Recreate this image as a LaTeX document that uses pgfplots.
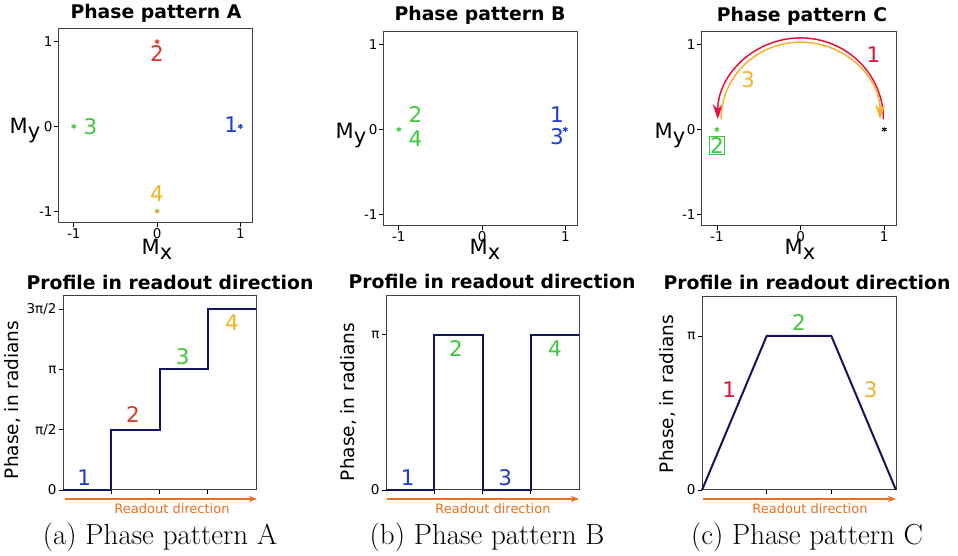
\documentclass[border=0pt]{standalone}
\usepackage{fontspec}
\usepackage{pgfplots}
\pgfplotsset{compat=1.18}
\usetikzlibrary{arrows.meta}
\newfontfamily\dv{DejaVu Sans}
\newcommand{\tl}{\dv\fontsize{13.5}{13.5}\selectfont}
\definecolor{cblue}{HTML}{1A3CD2}
\definecolor{cred}{HTML}{D43A28}
\definecolor{cgreen}{HTML}{3CC83C}
\definecolor{cyellow}{HTML}{F0B41E}
\definecolor{cgold}{HTML}{C8A028}
\definecolor{ccrim}{HTML}{E8103C}
\definecolor{cyel2}{HTML}{F8B030}
\definecolor{navy}{HTML}{14145A}
\definecolor{corange}{HTML}{E8701E}
\tikzset{num/.style={font=\dv\fontsize{21.5}{21.5}\selectfont, inner sep=0pt}}
\pgfplotsset{
  baseax/.style={scale only axis, anchor=south west,
    axis line style={black!75, line width=1pt},
    tick align=outside, major tick length=4pt,
    tick style={black, line width=0.8pt},
    xticklabel style={font=\tl}, yticklabel style={font=\tl},
    xtick pos=bottom, ytick pos=left, clip=false},
  topax/.style={baseax, xmin=-1.19, xmax=1.14, ymin=-1.14, ymax=1.15,
    xtick={-1,0,1}, ytick={-1,0,1},
    xticklabels={{\tl -1},{\tl 0},{\tl 1}}, yticklabels={{\tl -1},{\tl 0},{\tl 1}},
    xticklabel style={yshift=2pt}, yticklabel style={xshift=2pt}},
  botax/.style={baseax, xmin=0, ymin=0, xticklabels={}, yticklabel style={xshift=1pt}},
  ptm/.style={only marks, mark=asterisk, mark size=2.6pt, line width=0.9pt},
  prof/.style={navy, line width=2pt},
}
\newcommand{\ttl}[1]{{\dv\bfseries\fontsize{18.8}{18.8}\selectfont #1}}
\newcommand{\Mlab}[1]{{\dv\fontsize{21}{21}\selectfont M\raisebox{-5pt}{#1}}}
\begin{document}
\begin{tikzpicture}
\path (0pt,0pt) rectangle (958pt,556pt);
% ---------------- Top A
\begin{axis}[topax, at={(58pt,333pt)}, width=194pt, height=194pt]
\addplot[ptm, cblue] coordinates {(1,0)};
\addplot[ptm, cred] coordinates {(0,1)};
\addplot[ptm, cgreen] coordinates {(-1,0)};
\addplot[ptm, cgold] coordinates {(0,-1)};
\node[num, text=cblue] at (axis cs:0.89,0.02) {1};
\node[num, text=cred] at (axis cs:0,0.86) {2};
\node[num, text=cgreen] at (axis cs:-0.8,0) {3};
\node[num, text=cyellow] at (axis cs:0,-0.79) {4};
\end{axis}
% ---------------- Top B
\begin{axis}[topax, at={(383pt,330pt)}, width=194pt, height=194pt]
\addplot[ptm, cblue] coordinates {(1,0)};
\addplot[ptm, cgreen] coordinates {(-1,0)};
\node[num, text=cgreen] at (axis cs:-0.80,0.18) {2};
\node[num, text=cgreen] at (axis cs:-0.80,-0.11) {4};
\node[num, text=cblue] at (axis cs:0.90,0.18) {1};
\node[num, text=cblue] at (axis cs:0.90,-0.09) {3};
\end{axis}
% ---------------- Top C
\begin{axis}[topax, at={(701pt,330pt)}, width=195pt, height=194pt]
\addplot[ptm, cgreen] coordinates {(-1,0)};
\addplot[ptm, black] coordinates {(1,0)};
\draw[ccrim, line width=1.5pt, -{Stealth[length=15pt,width=10pt,inset=5pt]}]
  (axis cs:0.99,0.12) arc[start angle=0, end angle=180, x radius=0.99, y radius=0.96];
\draw[cyel2, line width=1.5pt, -{Stealth[length=15pt,width=10pt,inset=5pt]}]
  (axis cs:-0.95,0.12) arc[start angle=180, end angle=0, x radius=0.95, y radius=0.91];
\node[num, text=ccrim] at (axis cs:0.87,0.88) {1};
\node[num, text=cyel2] at (axis cs:-0.63,0.59) {3};
\node[num, text=cgreen, draw=cgreen, line width=0.9pt, inner sep=1pt] at (axis cs:-1,-0.19) {2};
\end{axis}
% axis labels top
\node at (157pt,307pt) {\Mlab{x}};
\node at (485pt,307pt) {\Mlab{x}};
\node at (800pt,307pt) {\Mlab{x}};
\node at (25pt,425pt) {\Mlab{y}};
\node at (351pt,420pt) {\Mlab{y}};
\node at (670pt,420pt) {\Mlab{y}};
% titles
\node at (156pt,543pt) {\ttl{Phase pattern A}};
\node at (480pt,541pt) {\ttl{Phase pattern B}};
\node at (802pt,540pt) {\ttl{Phase pattern C}};
\node at (170pt,274pt) {\ttl{Profile in readout direction}};
\node at (492pt,275pt) {\ttl{Profile in readout direction}};
\node at (807pt,274pt) {\ttl{Profile in readout direction}};
% ---------------- Bottom A
\begin{axis}[botax, at={(63pt,66pt)}, width=193pt, height=194pt,
  xmax=4, ymax=3.22, xtick={1,2,3}, ytick={0,1,2,3},
  yticklabels={{\tl 0},{\tl π/2},{\tl π},{\tl 3π/2}}]
\addplot[prof] coordinates {(0,0) (1,0) (1,1) (2,1) (2,2) (3,2) (3,3) (4,3)};
\node[num, text=cblue] at (axis cs:0.44,0.2) {1};
\node[num, text=cred] at (axis cs:1.45,1.25) {2};
\node[num, text=cgreen] at (axis cs:2.48,2.22) {3};
\node[num, text=cyellow] at (axis cs:3.5,2.78) {4};
\end{axis}
% ---------------- Bottom B
\begin{axis}[botax, at={(386pt,66pt)}, width=193pt, height=194pt,
  xmax=4, ymax=1.25, xtick={1,2,3}, ytick={0,1},
  yticklabels={{\tl 0},{\tl π}}]
\addplot[prof] coordinates {(0,0) (1,0) (1,1) (2,1) (2,0) (3,0) (3,1) (4,1)};
\node[num, text=cblue] at (axis cs:0.45,0.077) {1};
\node[num, text=cgreen] at (axis cs:1.45,0.91) {2};
\node[num, text=cblue] at (axis cs:2.47,0.077) {3};
\node[num, text=cgreen] at (axis cs:3.5,0.91) {4};
\end{axis}
% ---------------- Bottom C
\begin{axis}[botax, at={(702pt,66pt)}, width=194pt, height=193pt,
  xmax=3, ymax=1.253, xtick={1,2}, ytick={0,1},
  yticklabels={{\tl 0},{\tl π}}]
\addplot[prof] coordinates {(0,0) (1,1) (2,1) (3,0)};
\node[num, text=ccrim] at (axis cs:0.42,0.65) {1};
\node[num, text=cgreen] at (axis cs:1.5,1.09) {2};
\node[num, text=cyel2] at (axis cs:2.61,0.65) {3};
\end{axis}
% y labels bottom
\foreach \x/\y in {13/156, 349/154, 668/162}
  \node[rotate=90] at (\x pt,\y pt) {\dv\fontsize{18.5}{18.5}\selectfont Phase, in radians};
% readout arrows
\foreach \a/\b/\c in {65/257/172, 387/579/493, 703/896/810}{
  \draw[corange, line width=1.1pt, -{Stealth[length=8pt,width=6pt,inset=2pt]}] (\a pt,57pt) -- (\b pt,57pt);
  \node[text=corange] at (\c pt,47pt) {\dv\fontsize{13}{13}\selectfont Readout direction};
}
% captions
\node at (160pt,19pt) {\fontsize{29}{29}\selectfont (a) Phase pattern A};
\node at (487pt,19pt) {\fontsize{29}{29}\selectfont (b) Phase pattern B};
\node at (807pt,19pt) {\fontsize{29}{29}\selectfont (c) Phase pattern C};
\end{tikzpicture}
\end{document}
